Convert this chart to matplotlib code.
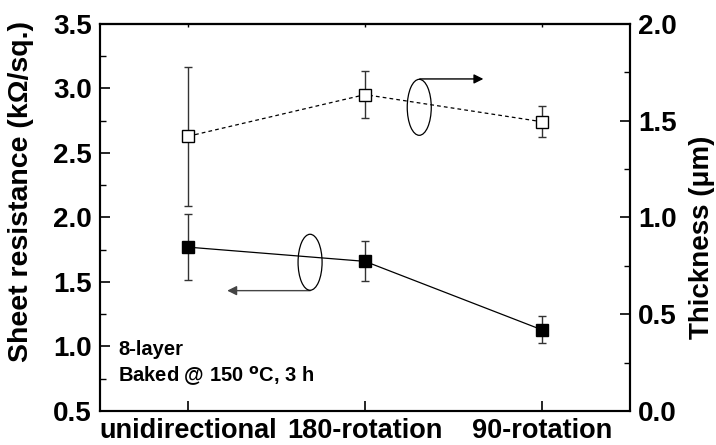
import matplotlib.pyplot as plt
from matplotlib.patches import Ellipse
from matplotlib.ticker import MultipleLocator

plt.rcParams['font.family'] = ['Liberation Sans', 'DejaVu Sans']
plt.rcParams['font.weight'] = 'bold'

# ---- data ----
samples = ["unidirectional", "180-rotation", "90-rotation"]
resistance = [1.77, 1.66, 1.13]          # kOhm/sq (left axis)
resistance_err = [0.255, 0.155, 0.105]
thickness = [1.42, 1.635, 1.495]         # um (right axis)
thickness_err = [0.36, 0.12, 0.08]

x = list(range(len(samples)))

fig = plt.figure(figsize=(7.16, 4.45), dpi=100)
ax = fig.add_axes([0.1397, 0.0764, 0.7402, 0.8697])
ax2 = ax.twinx()

# sheet resistance: filled squares, solid line
ax.errorbar(x, resistance, yerr=resistance_err, fmt='-', color='black', lw=0.9,
            ecolor='#333333', elinewidth=1.0, capsize=3, capthick=1.0, zorder=3)
ax.plot(x, resistance, 's', color='black', ms=8, zorder=4)

# thickness: open squares, dashed line
ax2.errorbar(x, thickness, yerr=thickness_err, fmt='-', color='black', lw=0.9,
             dashes=(3, 2.5), ecolor='#333333', elinewidth=1.0, capsize=3,
             capthick=1.0, zorder=3)
ax2.plot(x, thickness, 's', mfc='white', mec='black', mew=1.0, ms=8, zorder=4)

# axis ranges and ticks
ax.set_xlim(-0.5, 2.5)
ax.set_ylim(0.5, 3.5)
ax2.set_ylim(0.0, 2.0)
ax.set_xticks(x)
ax.set_xticklabels(samples, fontsize=19.5, fontweight='bold')
ax.yaxis.set_major_locator(MultipleLocator(0.5))
ax.yaxis.set_minor_locator(MultipleLocator(0.25))
ax2.yaxis.set_major_locator(MultipleLocator(0.5))
ax2.yaxis.set_minor_locator(MultipleLocator(0.25))
ax.yaxis.set_major_formatter(plt.FormatStrFormatter('%.1f'))
ax2.yaxis.set_major_formatter(plt.FormatStrFormatter('%.1f'))

ax.tick_params(axis='x', which='major', direction='in', length=7, width=1.2, pad=5)
ax.tick_params(axis='y', which='major', direction='in', length=7, width=1.2,
               labelsize=20, pad=6)
ax.tick_params(axis='y', which='minor', direction='in', length=4, width=1.0)
ax2.tick_params(axis='y', which='major', direction='in', length=7, width=1.2,
                labelsize=20, pad=6)
ax2.tick_params(axis='y', which='minor', direction='in', length=4, width=1.0)
for lab in ax.get_yticklabels() + ax2.get_yticklabels():
    lab.set_fontweight('bold')

# short tick marks along the top edge
top = ax.secondary_xaxis('top')
top.set_xticks(x)
top.tick_params(direction='in', length=2.5, width=1.0, labeltop=False)

for a in (ax, ax2, top):
    for s in a.spines.values():
        s.set_linewidth(1.5)

ax.set_ylabel("Sheet resistance (kΩ/sq.)", fontsize=20.5, fontweight='bold')
ax.yaxis.set_label_coords(-0.125, 0.567)
ax2.set_ylabel("Thickness (μm)", fontsize=20, fontweight='bold')
ax2.yaxis.set_label_coords(1.111, 0.45)

# ellipses with arrows pointing to the matching axis
ax.add_patch(Ellipse((1.307, 2.854), 0.136, 0.434, fill=False, ec='black', lw=0.9, zorder=5))
ax.annotate("", xy=(1.67, 3.074), xytext=(1.31, 3.074),
            arrowprops=dict(arrowstyle='-|>', color='black', lw=1.0,
                            mutation_scale=14, shrinkA=0, shrinkB=0))
ax.add_patch(Ellipse((0.689, 1.653), 0.136, 0.434, fill=False, ec='black', lw=0.9, zorder=5))
ax.annotate("", xy=(0.22, 1.433), xytext=(0.69, 1.433),
            arrowprops=dict(arrowstyle='-|>', color='#444444', lw=1.0,
                            mutation_scale=14, shrinkA=0, shrinkB=0))

ax.text(0.034, 0.16, "8-layer", transform=ax.transAxes, fontsize=14.5,
        fontweight='bold', va='center')
ax.text(0.034, 0.09, "Baked @ 150 $^{\\mathbf{o}}$C, 3 h", transform=ax.transAxes,
        fontsize=14.5, fontweight='bold', va='center')

plt.savefig("out.png", dpi=100)
